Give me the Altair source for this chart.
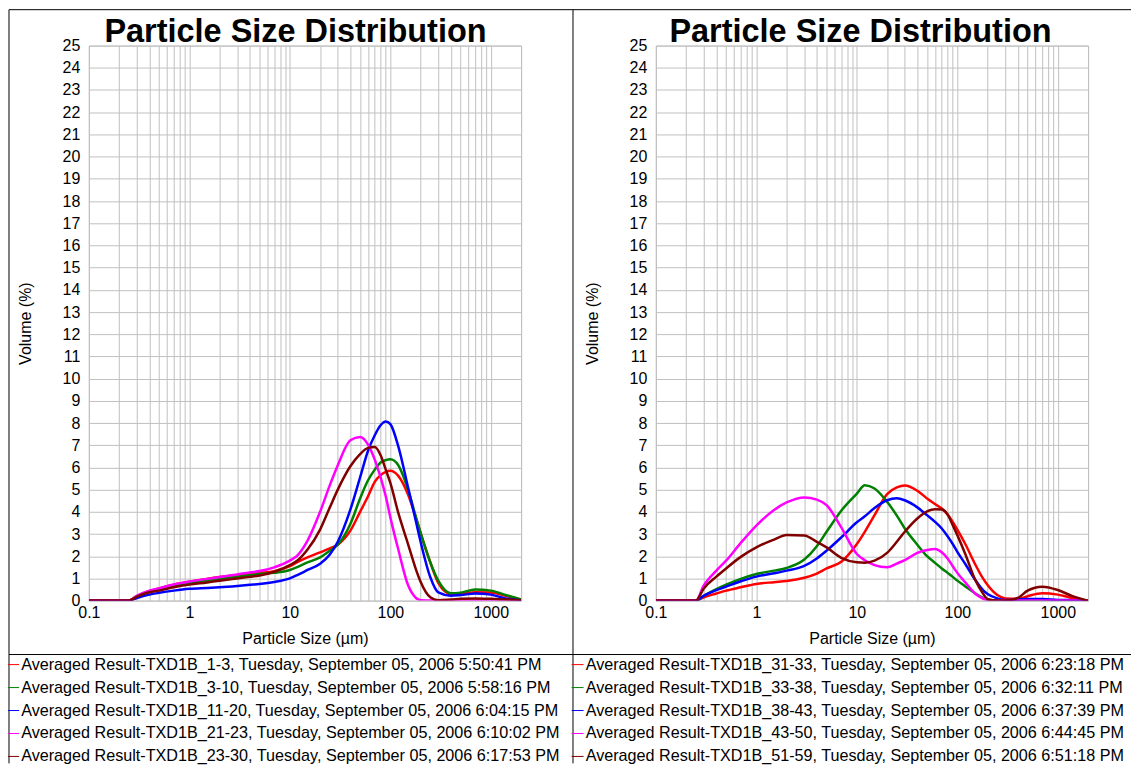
import altair as alt
import pandas as pd

TITLE = "Particle Size Distribution"
X_TITLE = "Particle Size (µm)"
Y_TITLE = "Volume (%)"

SIZES = [0.1, 0.25, 0.3, 0.4, 0.5, 0.7, 1, 1.5, 2, 3, 4, 5, 7, 10, 12, 15, 20, 25, 30,
         40, 50, 60, 70, 80, 90, 100, 120, 150, 180, 200, 250, 300, 400, 500, 700,
         1000, 1400, 2000]

X_GRID = [0.1, 0.2, 0.3, 0.4, 0.5, 0.6, 0.7, 0.8, 0.9,
          1, 2, 3, 4, 5, 6, 7, 8, 9,
          10, 20, 30, 40, 50, 60, 70, 80, 90,
          100, 200, 300, 400, 500, 600, 700, 800, 900,
          1000, 2000]
X_LABELED = [0.1, 1, 10, 100, 1000]
Y_TICKS = list(range(0, 26))

COLORS = ["#FF0000", "#008000", "#0000FF", "#FF00FF", "#800000"]

LEFT_NAMES = [
    "Averaged Result-TXD1B_1-3, Tuesday, September 05, 2006 5:50:41 PM",
    "Averaged Result-TXD1B_3-10, Tuesday, September 05, 2006 5:58:16 PM",
    "Averaged Result-TXD1B_11-20, Tuesday, September 05, 2006 6:04:15 PM",
    "Averaged Result-TXD1B_21-23, Tuesday, September 05, 2006 6:10:02 PM",
    "Averaged Result-TXD1B_23-30, Tuesday, September 05, 2006 6:17:53 PM",
]
RIGHT_NAMES = [
    "Averaged Result-TXD1B_31-33, Tuesday, September 05, 2006 6:23:18 PM",
    "Averaged Result-TXD1B_33-38, Tuesday, September 05, 2006 6:32:11 PM",
    "Averaged Result-TXD1B_38-43, Tuesday, September 05, 2006 6:37:39 PM",
    "Averaged Result-TXD1B_43-50, Tuesday, September 05, 2006 6:44:45 PM",
    "Averaged Result-TXD1B_51-59, Tuesday, September 05, 2006 6:51:18 PM",
]

LEFT_RED = [0, 0, 0.20, 0.42, 0.55, 0.72, 0.85, 0.98, 1.06, 1.15, 1.21, 1.25, 1.32,
            1.55, 1.75, 1.95, 2.17, 2.35, 2.52, 3.15, 4.00, 4.70, 5.35, 5.65, 5.80,
            5.85, 5.62, 4.78, 3.72, 3.05, 1.72, 0.80, 0.30, 0.30, 0.38, 0.37, 0.22, 0.03]
LEFT_GREEN = [0, 0, 0.18, 0.40, 0.52, 0.68, 0.80, 0.90, 0.98, 1.07, 1.14, 1.20, 1.25,
              1.38, 1.52, 1.72, 1.95, 2.25, 2.52, 3.45, 4.60, 5.42, 5.90, 6.22, 6.33,
              6.37, 6.10, 5.00, 3.75, 3.05, 1.72, 0.90, 0.33, 0.36, 0.50, 0.45, 0.26, 0.05]
LEFT_BLUE = [0, 0, 0.12, 0.27, 0.35, 0.45, 0.53, 0.57, 0.60, 0.66, 0.71, 0.75, 0.84,
             1.00, 1.16, 1.38, 1.66, 2.08, 2.65, 4.10, 5.55, 6.75, 7.45, 7.90, 8.07,
             7.95, 6.95, 5.10, 3.55, 2.65, 1.05, 0.37, 0.22, 0.25, 0.32, 0.27, 0.10, 0.02]
LEFT_MAGENTA = [0, 0, 0.22, 0.45, 0.55, 0.73, 0.86, 0.98, 1.06, 1.18, 1.27, 1.33, 1.50,
                1.80, 2.05, 2.70, 4.00, 5.20, 6.10, 7.22, 7.37, 7.03, 6.35, 5.55, 4.70,
                3.75, 2.30, 0.70, 0.12, 0.02, 0, 0, 0, 0, 0, 0, 0, 0]
LEFT_MAROON = [0, 0, 0.18, 0.38, 0.45, 0.60, 0.72, 0.82, 0.90, 1.00, 1.07, 1.13, 1.30,
               1.60, 1.82, 2.30, 3.20, 4.20, 5.00, 6.05, 6.60, 6.88, 6.92, 6.55, 5.90,
               5.30, 3.95, 2.55, 1.40, 0.85, 0.15, 0.02, 0.05, 0.08, 0.10, 0.08, 0.05, 0.02]

RIGHT_RED = [0, 0, 0.15, 0.32, 0.45, 0.60, 0.75, 0.83, 0.88, 1.03, 1.22, 1.45, 1.75,
             2.55, 3.10, 3.85, 4.80, 5.10, 5.19, 4.95, 4.60, 4.35, 4.15, 3.88, 3.55,
             3.20, 2.55, 1.65, 1.00, 0.70, 0.25, 0.10, 0.08, 0.20, 0.33, 0.27, 0.12, 0.00]
RIGHT_GREEN = [0, 0, 0.22, 0.52, 0.72, 0.98, 1.20, 1.35, 1.47, 1.85, 2.45, 3.10, 4.05,
               4.82, 5.20, 5.05, 4.45, 3.83, 3.25, 2.52, 2.00, 1.70, 1.45, 1.25, 1.07,
               0.90, 0.64, 0.33, 0.12, 0.05, 0, 0, 0, 0, 0, 0, 0, 0]
RIGHT_BLUE = [0, 0, 0.22, 0.47, 0.63, 0.87, 1.08, 1.23, 1.35, 1.57, 1.90, 2.25, 2.85,
              3.53, 3.80, 4.17, 4.52, 4.61, 4.52, 4.20, 3.85, 3.55, 3.25, 2.90, 2.55,
              2.20, 1.65, 0.95, 0.47, 0.30, 0.10, 0.03, 0.05, 0.07, 0.07, 0.03, 0.02, 0]
RIGHT_MAGENTA = [0, 0, 0.68, 1.35, 1.80, 2.60, 3.38, 4.08, 4.42, 4.65, 4.55, 4.30, 3.30,
                 2.10, 1.82, 1.60, 1.50, 1.67, 1.82, 2.15, 2.28, 2.33, 2.18, 1.90, 1.55,
                 1.25, 0.82, 0.32, 0.09, 0.02, 0, 0, 0, 0, 0, 0, 0, 0]
RIGHT_MAROON = [0, 0, 0.55, 1.08, 1.45, 1.97, 2.40, 2.75, 2.96, 2.93, 2.65, 2.40, 1.93,
                1.73, 1.71, 1.80, 2.15, 2.65, 3.10, 3.70, 4.02, 4.12, 4.10, 3.88, 3.40,
                2.95, 2.10, 0.95, 0.32, 0.07, 0, 0, 0.12, 0.45, 0.63, 0.48, 0.20, 0]

FONT = "Liberation Sans"
GRID = "#c0c0c0"
PLOT_W = 433
PLOT_H = 556


def panel_df(names, series):
    rows = []
    for name, vals in zip(names, series):
        for s, v in zip(SIZES, vals):
            rows.append({"size": s, "volume": v, "series": name})
    return pd.DataFrame(rows)


def one_row():
    return pd.DataFrame({"t": [TITLE]})


def make_panel(names, series, title_x, legend_x, left_edge, right_edge):
    df = panel_df(names, series)
    label_expr = "indexof(%s, datum.value) >= 0 ? format(datum.value, '~g') : ''" % (
        "[" + ", ".join(str(v) for v in X_LABELED) + "]")
    x = alt.X(
        "size:Q",
        scale=alt.Scale(type="log", domain=[0.1, 2000], nice=False),
        axis=alt.Axis(values=X_GRID, labelExpr=label_expr, labelOverlap=False,
                      labelFlush=False, title=X_TITLE, titleY=38,
                      titleBaseline="middle", labelPadding=4),
    )
    y = alt.Y(
        "volume:Q",
        scale=alt.Scale(domain=[0, 25], nice=False),
        axis=alt.Axis(values=Y_TICKS, title=Y_TITLE, titleAngle=270,
                      titleX=-63, titleY=278, titleAlign="center",
                      titleBaseline="middle", labelPadding=9),
    )
    color = alt.Color(
        "series:N",
        scale=alt.Scale(domain=names, range=COLORS),
        legend=alt.Legend(orient="none", legendX=legend_x, legendY=612,
                          direction="vertical", title=None, symbolType="stroke",
                          symbolSize=144, symbolStrokeWidth=1, symbolOffset=4.5,
                          labelFontSize=16.2, labelFont=FONT, labelColor="black",
                          labelLimit=1000, rowPadding=6, labelOffset=0, padding=0),
    )
    lines = alt.Chart(df).mark_line(strokeWidth=2.5, interpolate="monotone", clip=True).encode(
        x=x, y=y, color=color)

    title = alt.Chart(one_row()).mark_text(
        font=FONT, fontSize=32.5, fontWeight="bold", align="center",
        baseline="alphabetic", color="black").encode(
        text="t:N", x=alt.value(title_x), y=alt.value(-4))

    base = alt.Chart(one_row())
    top_rule = base.mark_rule(color="black", strokeWidth=1).encode(
        x=alt.value(left_edge), x2=alt.value(right_edge), y=alt.value(-36))
    sep_rule = base.mark_rule(color="black", strokeWidth=1).encode(
        x=alt.value(left_edge), x2=alt.value(right_edge), y=alt.value(610))
    left_rule = base.mark_rule(color="black", strokeWidth=1).encode(
        x=alt.value(left_edge), y=alt.value(-36), y2=alt.value(719))

    return alt.layer(lines, title, top_rule, sep_rule, left_rule).properties(
        width=PLOT_W, height=PLOT_H)


left = make_panel(LEFT_NAMES, [LEFT_RED, LEFT_GREEN, LEFT_BLUE, LEFT_MAGENTA, LEFT_MAROON],
                  207, -88.5, -80, 485)
right = make_panel(RIGHT_NAMES, [RIGHT_RED, RIGHT_GREEN, RIGHT_BLUE, RIGHT_MAGENTA, RIGHT_MAROON],
                   205, -91, -83, 476)

chart = alt.hconcat(left, right, spacing=135, bounds="flush").resolve_scale(
    color="independent"
).properties(
    padding={"left": -8, "top": 0, "right": 0, "bottom": 0}, background="white"
).configure_view(
    stroke=GRID, strokeWidth=1
).configure_axis(
    labelFont=FONT, labelFontSize=16, labelColor="black",
    titleFont=FONT, titleFontSize=16, titleFontWeight="normal", titleColor="black",
    grid=True, gridColor=GRID, gridWidth=1, domain=False, ticks=False,
)

chart.save("out.html", embed_options={"renderer": "svg", "actions": False})
